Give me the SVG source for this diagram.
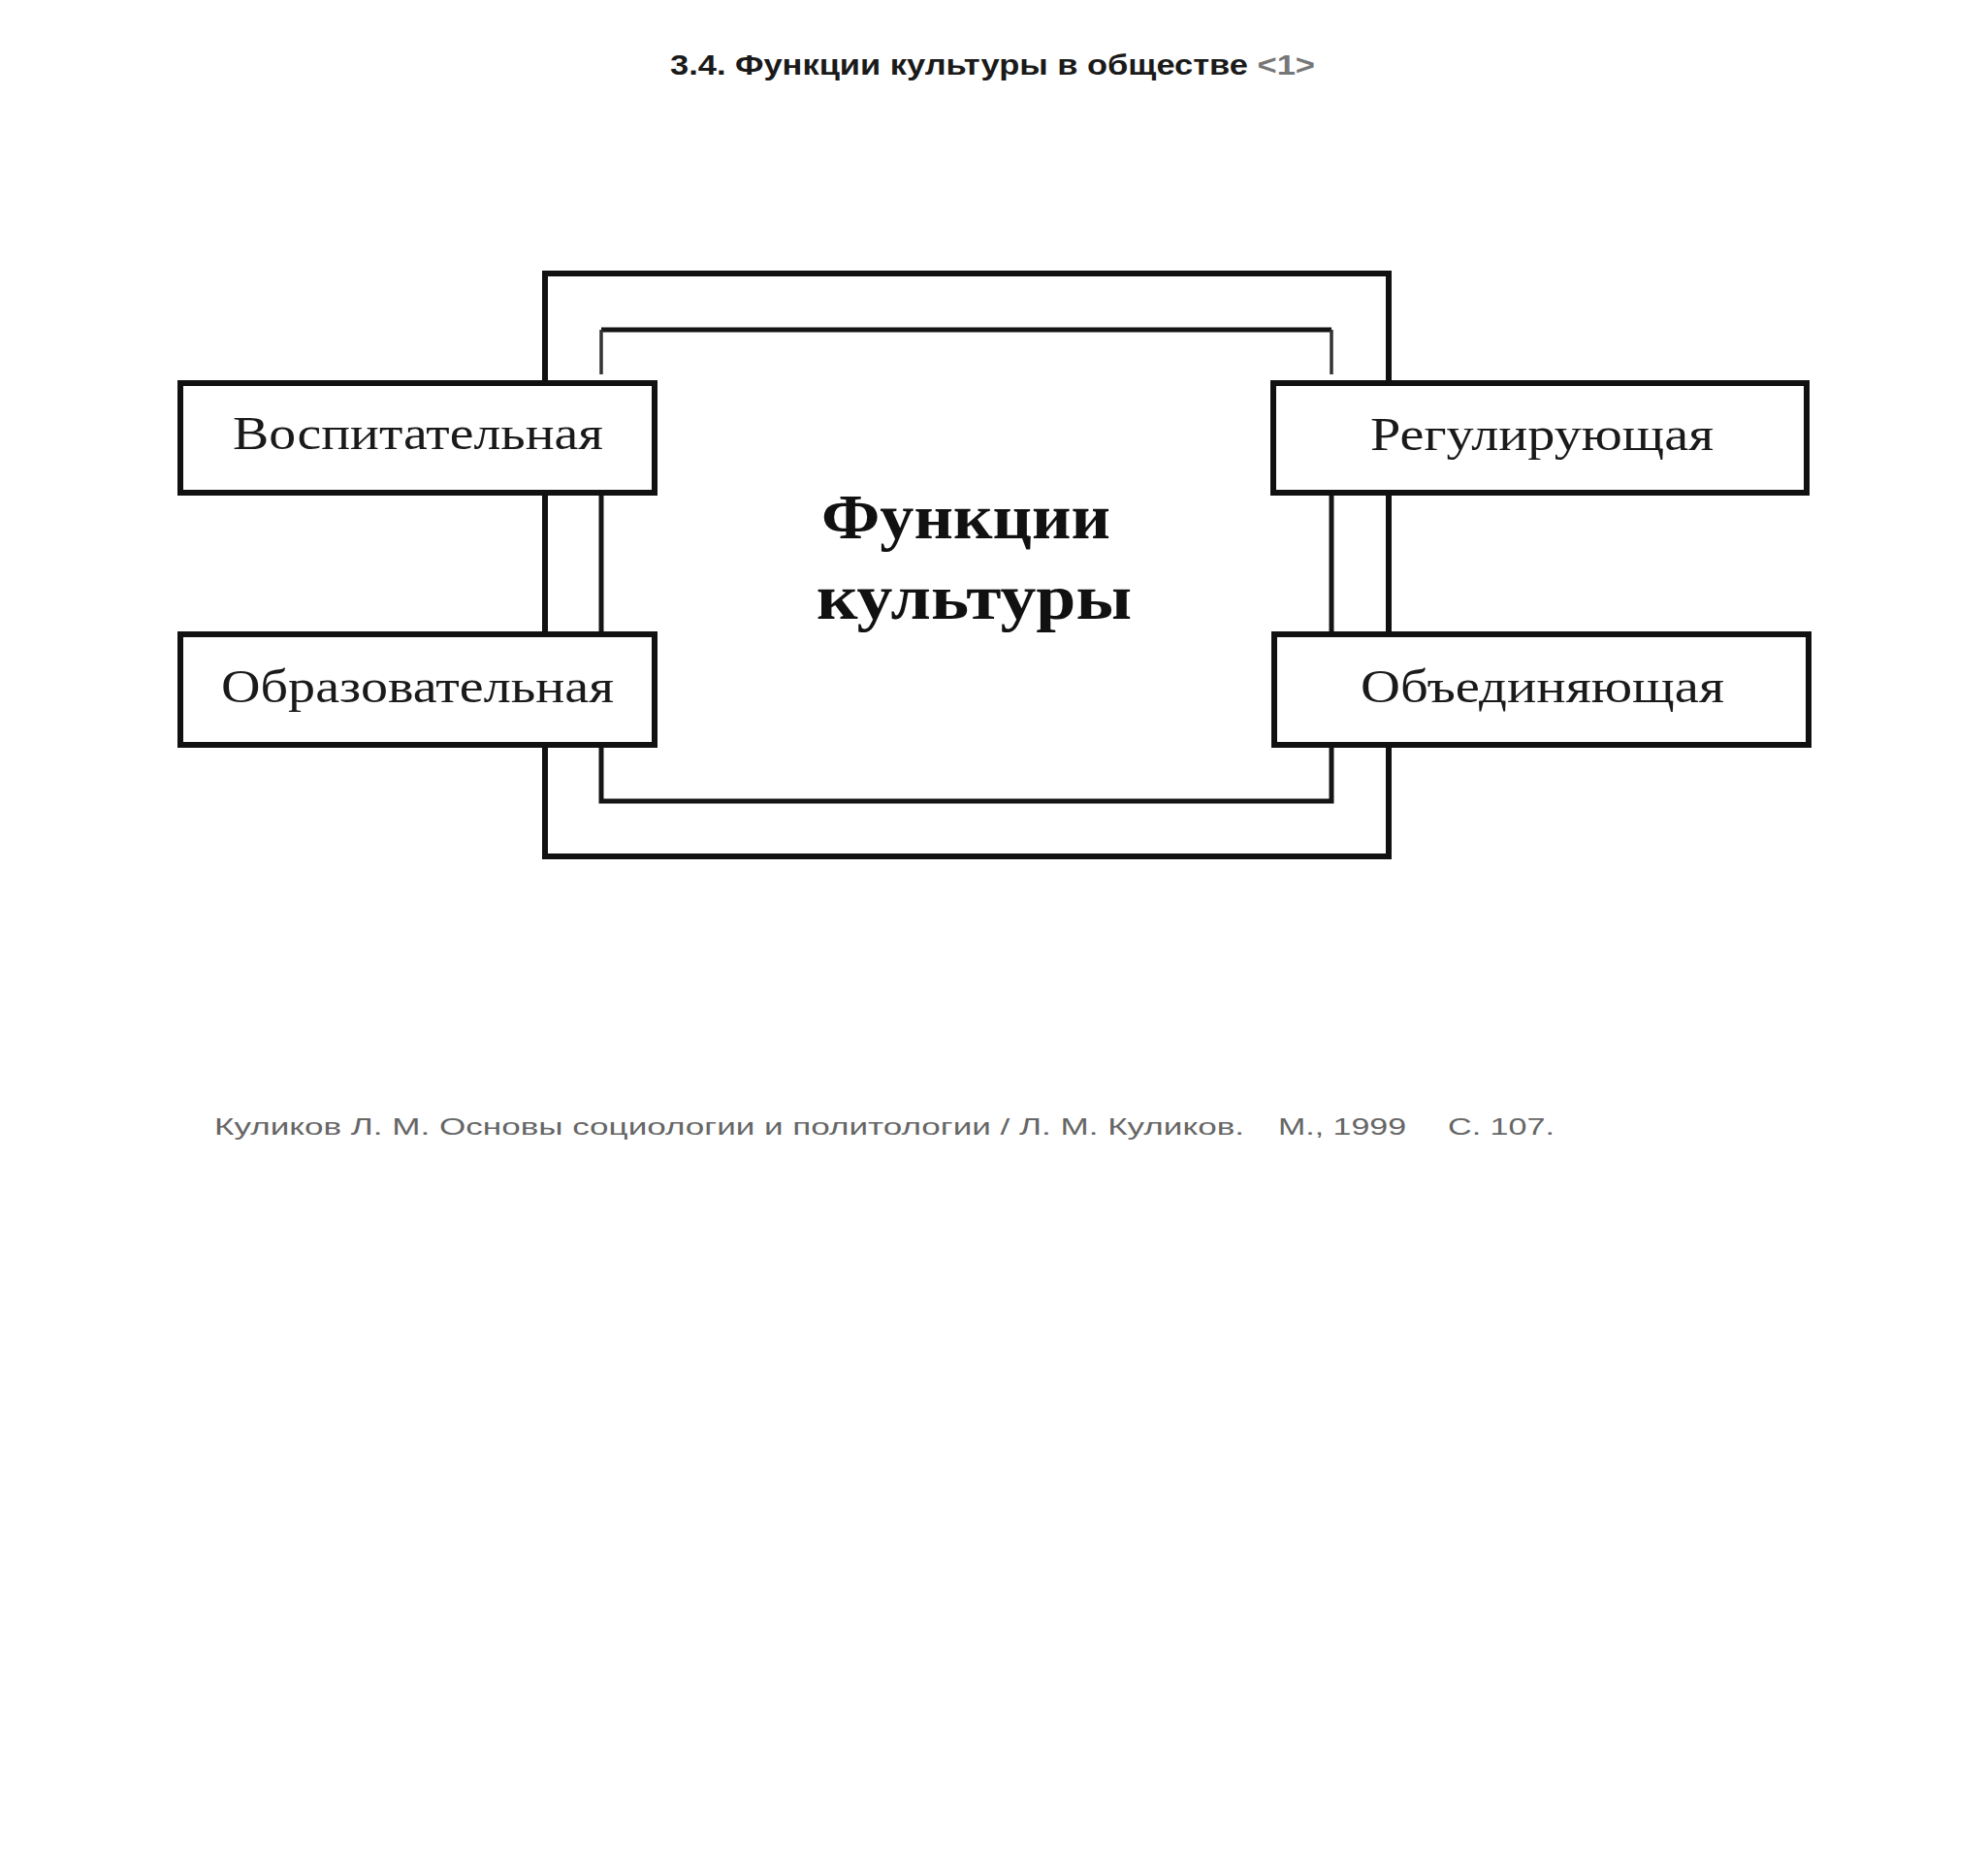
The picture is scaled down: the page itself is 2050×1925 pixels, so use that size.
<svg xmlns="http://www.w3.org/2000/svg" width="2050" height="1925" viewBox="0 0 2050 1925">
<style>
.frame{fill:none;stroke:#111;stroke-width:6;stroke-linejoin:miter}
.inner{fill:none;stroke:#151515;stroke-width:5}
.stub{fill:none;stroke:#333;stroke-width:3.5}
.box{fill:#fff;stroke:#111;stroke-width:6}
.lbl{font-family:"Liberation Serif","Times New Roman",serif;font-size:48px;fill:#1a1a1a}
.center{font-family:"Liberation Serif","Times New Roman",serif;font-size:66px;font-weight:bold;fill:#111}
.title{font-family:"Liberation Sans",Arial,sans-serif;font-size:29px;font-weight:bold;fill:#1a1a1a}
.note{font-family:"Liberation Sans",Arial,sans-serif;font-size:24px;fill:#666}
</style>
<rect width="2050" height="1925" fill="#fff"/>
<text class="title" x="691" y="77" textLength="665" lengthAdjust="spacingAndGlyphs">3.4. Функции культуры в обществе <tspan fill="#777">&lt;1&gt;</tspan></text>
<g id="connectors">
<rect class="frame" x="562" y="282" width="870" height="601"/>
<path class="inner" d="M620,340 L1373,340"/>
<path class="stub" d="M620,340 L620,386 M1373,340 L1373,386"/>
<path class="inner" d="M620,508 L620,826 L1373,826 L1373,508"/>
</g>
<g id="center">
<text class="center" x="847" y="555" textLength="298" lengthAdjust="spacingAndGlyphs">Функции</text>
<text class="center" x="842" y="638" textLength="325" lengthAdjust="spacingAndGlyphs">культуры</text>
</g>
<g id="node-vospitatelnaya">
<rect class="box" x="186" y="395" width="489" height="113"/>
<text class="lbl" x="240" y="463" textLength="382" lengthAdjust="spacingAndGlyphs">Воспитательная</text>
</g>
<g id="node-obrazovatelnaya">
<rect class="box" x="186" y="654" width="489" height="114"/>
<text class="lbl" x="228" y="724" textLength="405" lengthAdjust="spacingAndGlyphs">Образовательная</text>
</g>
<g id="node-reguliruyushchaya">
<rect class="box" x="1313" y="395" width="550" height="113"/>
<text class="lbl" x="1413" y="464" textLength="354" lengthAdjust="spacingAndGlyphs">Регулирующая</text>
</g>
<g id="node-obedinyayushchaya">
<rect class="box" x="1314" y="654" width="551" height="114"/>
<text class="lbl" x="1403" y="724" textLength="375" lengthAdjust="spacingAndGlyphs">Объединяющая</text>
</g>
<g id="footnote">
<text class="note" x="221" y="1170" textLength="1062" lengthAdjust="spacingAndGlyphs">Куликов Л. М. Основы социологии и политологии / Л. М. Куликов.</text>
<text class="note" x="1318" y="1170" textLength="132" lengthAdjust="spacingAndGlyphs">М., 1999</text>
<text class="note" x="1493" y="1170" textLength="110" lengthAdjust="spacingAndGlyphs">С. 107.</text>
</g>
</svg>
